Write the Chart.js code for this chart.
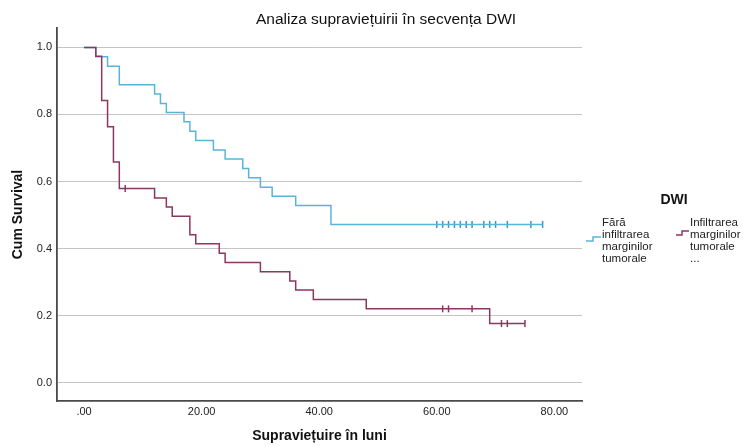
<!DOCTYPE html>
<html>
<head>
<meta charset="utf-8">
<script src="https://cdn.jsdelivr.net/npm/chart.js@4"></script>
<style>
  body { margin: 0; background: #fff; }
  #wrap { width: 743px; height: 446px; }
</style>
</head>
<body>
<div id="wrap"><canvas id="grafico" width="743" height="446"></canvas></div>
<script>
// Date (luni, supravietuire cumulata)

const titlu = "Analiza supraviețuirii în secvența DWI";
const legendaTitlu = "DWI";
const grupe = ["Fără infiltrarea marginilor tumorale", "Infiltrarea marginilor tumorale ..."];

const timpFara = [0, 2, 4, 6, 12, 13, 14, 17, 18, 19, 22, 24, 27, 28, 30, 32, 36, 42, 78];
const survFara = [1.0, 0.972, 0.944, 0.889, 0.861, 0.833, 0.806, 0.778, 0.75, 0.722, 0.694, 0.667, 0.639, 0.611, 0.583, 0.556, 0.528, 0.472, 0.472];
const cenzFaraTimp = [60, 61, 62, 63, 64, 65, 66, 68, 69, 70, 72, 76, 78];
const cenzFaraSurv = [0.472, 0.472, 0.472, 0.472, 0.472, 0.472, 0.472, 0.472, 0.472, 0.472, 0.472, 0.472, 0.472];

const timpInf = [0, 2, 3, 4, 5, 6, 12, 14, 15, 18, 19, 23, 24, 30, 35, 36, 39, 48, 69, 75];
const survInf = [1.0, 0.974, 0.842, 0.763, 0.658, 0.579, 0.551, 0.524, 0.496, 0.441, 0.414, 0.386, 0.358, 0.331, 0.303, 0.276, 0.248, 0.22, 0.176, 0.176];
const cenzInfTimp = [7, 61, 62, 66, 71, 72, 75];
const cenzInfSurv = [0.579, 0.22, 0.22, 0.22, 0.176, 0.176, 0.176];

const yTicks = [0, 0.2, 0.4, 0.6, 0.8, 1.0];
const xTicks = [0, 20, 40, 60, 80];
const xTickLabels = [".00", "20.00", "40.00", "60.00", "80.00"];

const albastru = "#5ab4da";
const albastruCenz = "#3d92c8";
const rosu = "#8b3760";
const FONT = "'Liberation Sans', Arial, sans-serif";

const puncte = (xs, ys) => xs.map((x, i) => ({ x: x, y: ys[i] }));

// Titlu si legenda desenate pe canvas

const textePlugin = {
  id: "texte",
  afterDraw(chart) {
    const c = chart.ctx;
    c.save();
    c.fillStyle = "#111";
    c.textBaseline = "middle";
    c.textAlign = "center";
    c.font = "15.5px " + FONT;
    c.fillText(titlu, 386, 20);

    c.font = "bold 14px " + FONT;
    c.fillText(legendaTitlu, 674, 200);

    c.textAlign = "left";
    c.font = "11.5px " + FONT;
    c.fillStyle = "#222";
    const linii1 = ["Fără", "infiltrarea", "marginilor", "tumorale"];
    const linii2 = ["Infiltrarea", "marginilor", "tumorale", "..."];
    const ys = [223, 235, 247, 259];
    linii1.forEach((t, i) => c.fillText(t, 602, ys[i]));
    linii2.forEach((t, i) => c.fillText(t, 690, ys[i]));

    c.lineWidth = 1.5;
    c.strokeStyle = albastru;
    c.beginPath();
    c.moveTo(586, 241); c.lineTo(593, 241); c.lineTo(593, 237); c.lineTo(601, 237);
    c.stroke();
    c.strokeStyle = rosu;
    c.beginPath();
    c.moveTo(676, 235); c.lineTo(682, 235); c.lineTo(682, 231); c.lineTo(689, 231);
    c.stroke();
    c.restore();
  }
};

const ctx = document.getElementById("grafico");

const chart = new Chart(ctx, {
  type: "line",
  data: {
    datasets: [
      {
        label: grupe[1],
        data: puncte(timpInf, survInf),
        borderColor: rosu,
        borderWidth: 1.5,
        stepped: "before",
        pointRadius: 0,
        fill: false,
      },
      {
        label: grupe[1] + " cenzurat",
        type: "scatter",
        data: puncte(cenzInfTimp, cenzInfSurv),
        borderColor: rosu,
        backgroundColor: rosu,
        pointStyle: "line",
        rotation: 90,
        pointRadius: 3.5,
        pointBorderWidth: 1.5,
      },
      {
        label: grupe[0],
        data: puncte(timpFara, survFara),
        borderColor: albastru,
        borderWidth: 1.5,
        stepped: "before",
        pointRadius: 0,
        fill: false,
      },
      {
        label: grupe[0] + " cenzurat",
        type: "scatter",
        data: puncte(cenzFaraTimp, cenzFaraSurv),
        borderColor: albastruCenz,
        backgroundColor: albastruCenz,
        pointStyle: "line",
        rotation: 90,
        pointRadius: 3.5,
        pointBorderWidth: 1.5,
      },
    ],
  },
  options: {
    responsive: false,
    animation: false,
    layout: { padding: { left: 0, top: 28, right: 161, bottom: 0 } },
    plugins: {
      legend: { display: false },
      title: { display: false },
      tooltip: { enabled: false },
    },
    scales: {
      x: {
        type: "linear",
        min: -4.6,
        max: 84.7,
        afterFit: (s) => { s.height = 45; },
        afterBuildTicks: (s) => { s.ticks = xTicks.map((v) => ({ value: v })); },
        grid: { display: false, drawTicks: false },
        border: { display: true, color: "#4a4a4a", width: 1.8 },
        ticks: {
          padding: 4,
          color: "#222",
          font: { family: FONT, size: 11 },
          callback: (v) => xTickLabels[xTicks.indexOf(v)],
        },
        title: {
          display: true,
          text: "Supraviețuire în luni",
          color: "#111",
          font: { family: FONT, size: 14, weight: "bold" },
          padding: { top: 0, bottom: 1 },
        },
      },
      y: {
        type: "linear",
        min: -0.055,
        max: 1.058,
        afterFit: (s) => { s.width = 57; },
        afterBuildTicks: (s) => { s.ticks = yTicks.map((v) => ({ value: v })); },
        grid: { color: "#c4c4c4", lineWidth: 1, drawTicks: false },
        border: { display: true, color: "#4a4a4a", width: 1.8 },
        ticks: {
          padding: 5,
          color: "#222",
          font: { family: FONT, size: 11 },
          callback: (v) => v.toFixed(1),
        },
        title: {
          display: true,
          text: "Cum Survival",
          color: "#111",
          font: { family: FONT, size: 14, weight: "bold" },
          padding: { top: 10, bottom: 0 },
        },
      },
    },
  },
  plugins: [textePlugin],
});
</script>
</body>
</html>
